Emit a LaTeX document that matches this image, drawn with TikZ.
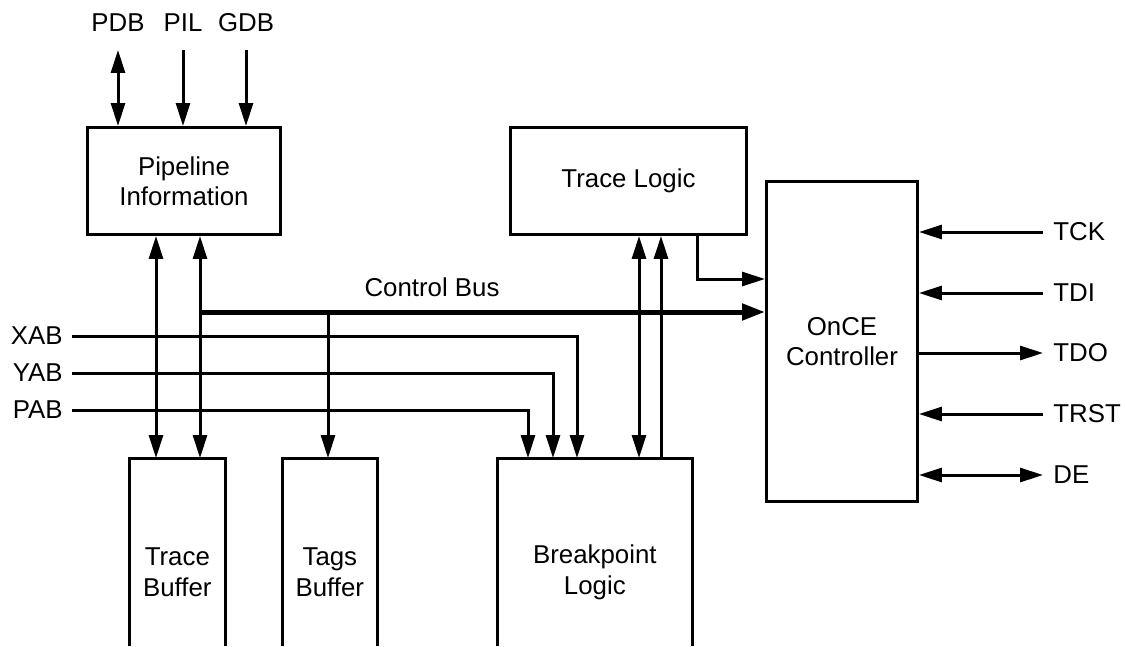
\documentclass[tikz,border=0pt]{standalone}
\usepackage{fontspec}
\setmainfont{Liberation Sans}
\usetikzlibrary{arrows.meta,positioning}

\begin{document}
\begin{tikzpicture}[x=0.02cm, y=-0.02cm, font=\fontsize{14.7}{17.3}\selectfont,
box/.style={draw, line width=0.06cm, anchor=north west, align=center, inner sep=0pt},
obox/.style={anchor=north west, align=center, inner sep=0pt, minimum height=4.56cm},
toplbl/.style={anchor=south, inner xsep=0pt, inner ysep=0.36cm},
leftlbl/.style={anchor=east, inner sep=0.18cm},
rightlbl/.style={anchor=west, inner sep=0.2cm},
wire/.style={line width=0.06cm},
arrow/.style={-{Triangle[length=4.6mm, width=2.8mm]}, line width=0.06cm},
dblarrow/.style={{Triangle[length=4.6mm, width=2.8mm]}-{Triangle[length=4.6mm, width=2.8mm]}, line width=0.06cm},
bus/.style={-{Triangle[length=4.6mm, width=3.2mm]}, line width=0.1cm}]
\useasboundingbox (0,0) rectangle (1125,646);
% blocks
\node[box, minimum width=3.86cm, minimum height=2.14cm] (pipe) at (86,126) {Pipeline\\Information};
\node[box, minimum width=4.72cm, minimum height=2.14cm] (trlog) at (509,126) {Trace Logic};
\node[box, minimum width=3.02cm, minimum height=6.4cm] (once) at (765,180) {OnCE\\Controller};
\node[obox, minimum width=1.92cm] (trbuf) at (129,458) {Trace\\Buffer};
\node[obox, minimum width=1.9cm] (tgbuf) at (282,458) {Tags\\Buffer};
\node[obox, minimum width=3.9cm] (bplog) at (497,458) {Breakpoint\\Logic};
\foreach \n in {trbuf,tgbuf,bplog}
  \draw[wire] (\n.north west |- 0,646) -- (\n.north west) -- (\n.north east) -- (\n.north east |- 0,646);
% signal labels
\node[toplbl] (pdb) at (118,50) {PDB};
\node[toplbl] (pil) at (183,50) {PIL};
\node[toplbl] (gdb) at (246,50) {GDB};
\node[leftlbl] (xab) at (72,336) {XAB};
\node[leftlbl] (yab) at (72,373) {YAB};
\node[leftlbl] (pab) at (72,410) {PAB};
\node[rightlbl] (tck) at (1043,232) {TCK};
\node[rightlbl] (tdi) at (1043,293) {TDI};
\node[rightlbl] (tdo) at (1043,353) {TDO};
\node[rightlbl] (trst) at (1043,414) {TRST};
\node[rightlbl] (de) at (1043,475) {DE};
\node[inner sep=0pt] (cbus) at (432,287) {Control Bus};
% connections
\draw[dblarrow] (pdb.south) -- (pdb.south |- pipe.north);
\draw[arrow] (pil.south) -- (pil.south |- pipe.north);
\draw[arrow] (gdb.south) -- (gdb.south |- pipe.north);
\draw[dblarrow] (156,0 |- pipe.south) -- (156,0 |- trbuf.north);
\draw[dblarrow] (200,0 |- pipe.south) -- (200,0 |- trbuf.north);
\draw[bus] (200,312) -- (200,312 -| once.west);
\draw[arrow] (328,312) -- (328,0 |- tgbuf.north);
\draw[arrow] (xab.east) -| (577,0 |- bplog.north);
\draw[arrow] (yab.east) -| (553,0 |- bplog.north);
\draw[arrow] (pab.east) -| (528,0 |- bplog.north);
\draw[dblarrow] (639,0 |- trlog.south) -- (639,0 |- bplog.north);
\draw[arrow] (661,0 |- bplog.north) -- (661,0 |- trlog.south);
\draw[arrow] (697,0 |- trlog.south) |- (once.west |- 0,279);
\draw[arrow] (tck.west) -- (tck.west -| once.east);
\draw[arrow] (tdi.west) -- (tdi.west -| once.east);
\draw[arrow] (tdo.west -| once.east) -- (tdo.west);
\draw[arrow] (trst.west) -- (trst.west -| once.east);
\draw[dblarrow] (de.west -| once.east) -- (de.west);
\end{tikzpicture}
\end{document}
